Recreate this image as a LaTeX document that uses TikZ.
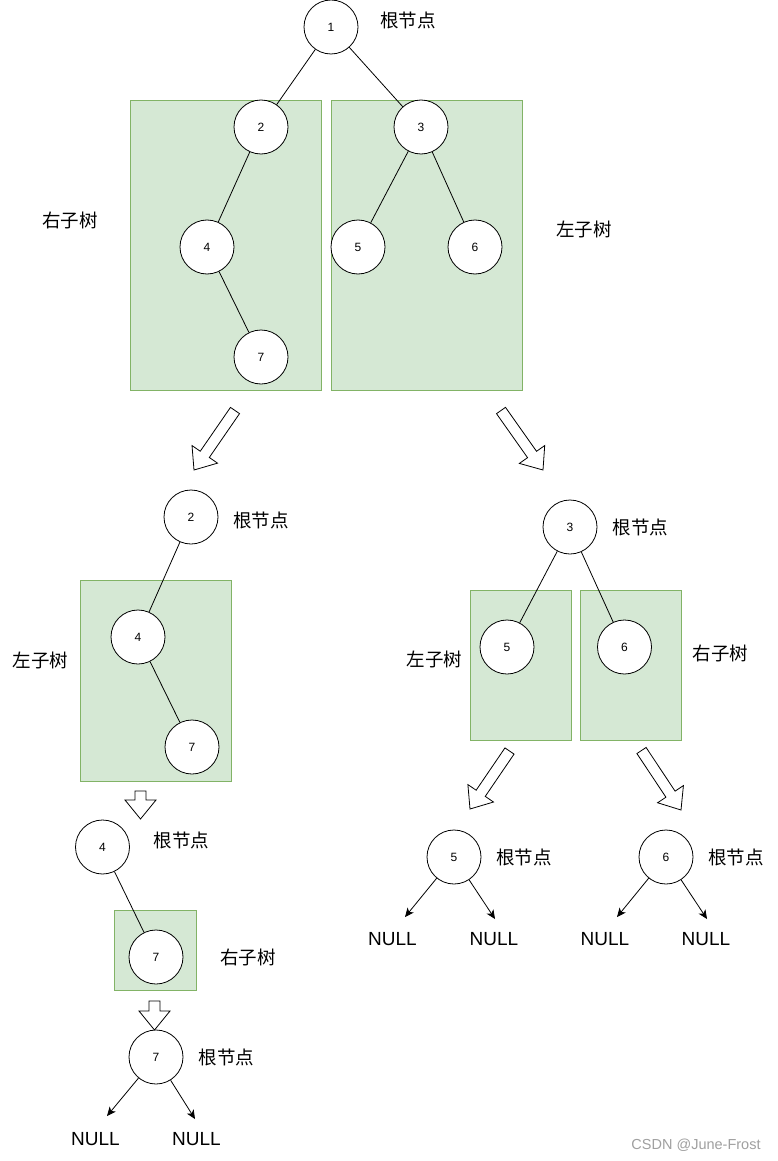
\documentclass[tikz,border=0pt]{standalone}
\usepackage{fontspec}
\setmainfont{Liberation Sans}
\newfontfamily\cjk{Noto Sans CJK SC}
\usetikzlibrary{arrows.meta,calc}
\definecolor{boxfill}{HTML}{D5E8D4}
\definecolor{boxline}{HTML}{82B366}
\definecolor{wm}{HTML}{A0A0A0}
\tikzset{
  tnode/.style={circle,draw,line width=0.8pt,fill=white,minimum size=54pt,inner sep=0pt,font=\fontsize{12}{12}\selectfont},
  subbox/.style={rectangle,draw=boxline,fill=boxfill,line width=0.8pt,inner sep=0pt},
  lbl/.style={font=\cjk\fontsize{18.5}{20}\selectfont,inner sep=0pt},
  nulltxt/.style={font=\fontsize{19}{20}\selectfont,inner sep=0pt},
  edge/.style={line width=0.8pt},
  nullarrow/.style={line width=0.8pt,-{Stealth[length=9pt,width=8pt,inset=2.5pt]}},
  hollow/.style={draw,line width=0.8pt,fill=white,line join=miter},
}
\newcommand\hollowarrow[3]{%
  \coordinate (#1t) at #2; \coordinate (#1h) at #3;
  \coordinate (#1m) at ($(#1h)!19pt!(#1t)$);
  \draw[hollow] ($(#1t)!5.5pt!90:(#1h)$) -- ($(#1m)!5.5pt!-90:(#1t)$) -- ($(#1m)!15.5pt!-90:(#1t)$) -- (#1h)
    -- ($(#1m)!15.5pt!90:(#1t)$) -- ($(#1m)!5.5pt!90:(#1t)$) -- ($(#1t)!5.5pt!-90:(#1h)$) -- cycle;
}
\begin{document}
\begin{tikzpicture}[x=1pt,y=-1pt]
\useasboundingbox[fill=white] (0,0) rectangle (777,1161);

% ---------- top tree ----------
\node[subbox,minimum width=191pt,minimum height=290pt] (boxL) at (225.5,245) {};
\node[subbox,minimum width=191pt,minimum height=290pt] (boxR) at (426.5,245) {};
\node[tnode] (n1) at (331,27) {1};
\node[tnode] (n2) at (261,127) {2};
\node[tnode] (n3) at (421,127) {3};
\node[tnode] (n4) at (207,247) {4};
\node[tnode] (n5) at (358,247) {5};
\node[tnode] (n6) at (475,247) {6};
\node[tnode] (n7) at (261,357) {7};
\draw[edge] (n1) -- (n2);
\draw[edge] (n1) -- (n3);
\draw[edge] (n2) -- (n4);
\draw[edge] (n4) -- (n7);
\draw[edge] (n3) -- (n5);
\draw[edge] (n3) -- (n6);
\node[lbl] (l1) at (408,20) {根节点};
\node[lbl] (l2) at (70,220) {右子树};
\node[lbl] (l3) at (584,229) {左子树};

\hollowarrow{ha}{(235,410.5)}{(194,470)}
\hollowarrow{hb}{(501,410.5)}{(543,470)}

% ---------- left subtree (root 2) ----------
\node[subbox,minimum width=151pt,minimum height=201pt] (boxA) at (155.5,680.5) {};
\node[tnode] (a2) at (191,517) {2};
\node[tnode] (a4) at (138,637) {4};
\node[tnode] (a7) at (192,747) {7};
\draw[edge] (a2) -- (a4);
\draw[edge] (a4) -- (a7);
\node[lbl] (la1) at (261,520) {根节点};
\node[lbl] (la2) at (40.5,660) {左子树};

\hollowarrow{hc}{(140.5,791)}{(140.5,819)}

% ---------- subtree (root 4) ----------
\node[subbox,minimum width=82pt,minimum height=80pt] (boxB) at (155,950) {};
\node[tnode] (b4) at (102.5,847) {4};
\node[tnode] (b7) at (156,957) {7};
\draw[edge] (b4) -- (b7);
\node[lbl] (lb1) at (181.5,840) {根节点};
\node[lbl] (lb2) at (248,957) {右子树};

\hollowarrow{hd}{(154.5,1001)}{(154.5,1030)}

% ---------- leaf 7 ----------
\node[tnode] (c7) at (156,1057) {7};
\node[lbl] (lc1) at (226.5,1057) {根节点};
\coordinate (c7l) at (107,1116);
\coordinate (c7r) at (195,1119);
\draw[nullarrow] (c7) -- (c7l);
\draw[nullarrow] (c7) -- (c7r);
\node[nulltxt] (c7nl) at (95.5,1139.5) {NULL};
\node[nulltxt] (c7nr) at (196.5,1139.5) {NULL};

% ---------- right subtree (root 3) ----------
\node[subbox,minimum width=101pt,minimum height=150pt] (boxC) at (520.5,665) {};
\node[subbox,minimum width=101pt,minimum height=150pt] (boxD) at (630.5,665) {};
\node[tnode] (d3) at (570,527) {3};
\node[tnode] (d5) at (507,647) {5};
\node[tnode] (d6) at (624.5,647) {6};
\draw[edge] (d3) -- (d5);
\draw[edge] (d3) -- (d6);
\node[lbl] (ld1) at (640.5,527) {根节点};
\node[lbl] (ld2) at (434.5,659) {左子树};
\node[lbl] (ld3) at (720.5,653) {右子树};

\hollowarrow{he}{(509.5,751)}{(470,809)}
\hollowarrow{hf}{(641.5,750.5)}{(681,810)}

% ---------- leaf 5 ----------
\node[tnode] (e5) at (454,857) {5};
\node[lbl] (le1) at (524,857) {根节点};
\coordinate (e5l) at (405,917);
\coordinate (e5r) at (495,919);
\draw[nullarrow] (e5) -- (e5l);
\draw[nullarrow] (e5) -- (e5r);
\node[nulltxt] (e5nl) at (392.5,939.5) {NULL};
\node[nulltxt] (e5nr) at (494,939.5) {NULL};

% ---------- leaf 6 ----------
\node[tnode] (f6) at (666,857) {6};
\node[lbl] (lf1) at (736,857) {根节点};
\coordinate (f6l) at (617,917);
\coordinate (f6r) at (707,919);
\draw[nullarrow] (f6) -- (f6l);
\draw[nullarrow] (f6) -- (f6r);
\node[nulltxt] (f6nl) at (605,939.5) {NULL};
\node[nulltxt] (f6nr) at (706,939.5) {NULL};

% watermark
\node[font=\fontsize{14.5}{15}\selectfont,text=wm,inner sep=0pt] (wmk) at (696,1145) {CSDN @June-Frost};
\end{tikzpicture}
\end{document}
